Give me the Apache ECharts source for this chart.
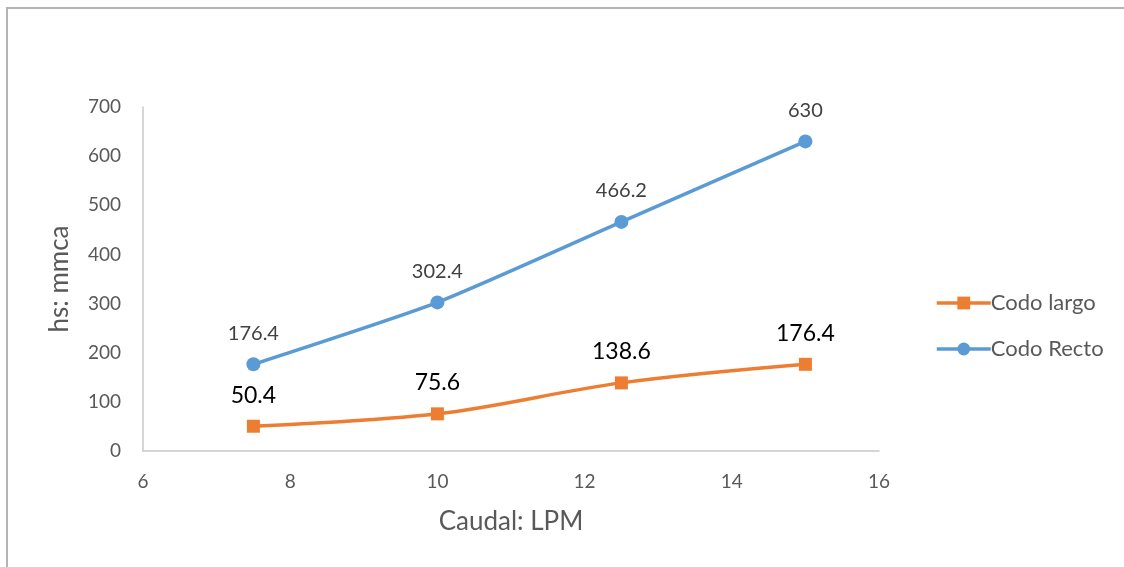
<!DOCTYPE html>
<html>
<head>
<meta charset="utf-8">
<script src="https://cdn.jsdelivr.net/npm/echarts@6/dist/echarts.min.js"></script>
<style>
  html, body { margin: 0; padding: 0; background: #fff; }
  #chart { position: absolute; left: 0; top: 0; width: 1124px; height: 567px; }
  #frame { position: absolute; left: 6px; top: 7px; width: 1130px; height: 580px;
           border-top: 2px solid #b4b4b4; border-left: 2px solid #b4b4b4; pointer-events: none; }
</style>
</head>
<body>
<div id="chart"></div>
<div id="frame"></div>
<script>
// Flow rate (LPM) and head loss (mm water column) for two elbow types
const caudal = [7.5, 10, 12.5, 15];
const codoLargo = [50.4, 75.6, 138.6, 176.4];
const codoRecto = [176.4, 302.4, 466.2, 630];
const xTicks = [6, 8, 10, 12, 14, 16];
const yTicks = [0, 100, 200, 300, 400, 500, 600, 700];

const FONT = 'Lato, "Noto Sans", sans-serif';
const pairs = (xs, ys) => xs.map((x, i) => [x, ys[i]]);

const chart = echarts.init(document.getElementById('chart'), null, { renderer: 'canvas' });
chart.setOption({
  animation: false,
  textStyle: { fontFamily: FONT },
  grid: { left: 143, right: 245, top: 107, bottom: 116 },
  legend: {
    orient: 'vertical',
    left: 930,
    top: 287,
    itemWidth: 54,
    itemHeight: 16,
    itemGap: 24,
    lineStyle: { width: 3.5 },
    textStyle: { fontFamily: FONT, fontSize: 22, color: '#595959', padding: [0, 0, 0, -5] },
    data: ['Codo largo', 'Codo Recto']
  },
  xAxis: {
    type: 'value',
    min: xTicks[0],
    max: xTicks[xTicks.length - 1],
    interval: 2,
    name: 'Caudal: LPM',
    nameLocation: 'middle',
    nameGap: 58,
    nameTextStyle: { fontFamily: FONT, fontSize: 26, color: '#595959' },
    axisLine: { lineStyle: { color: '#c8c8c8', width: 1.5 } },
    axisTick: { show: false },
    splitLine: { show: false },
    axisLabel: { fontFamily: FONT, fontSize: 19, color: '#595959', margin: 21 }
  },
  yAxis: {
    type: 'value',
    min: yTicks[0],
    max: yTicks[yTicks.length - 1],
    interval: 100,
    name: 'hs: mmca',
    nameLocation: 'middle',
    nameGap: 70,
    nameTextStyle: { fontFamily: FONT, fontSize: 26, color: '#595959' },
    axisLine: { show: true, lineStyle: { color: '#c8c8c8', width: 1.5 } },
    axisTick: { show: false },
    splitLine: { show: false },
    axisLabel: { fontFamily: FONT, fontSize: 19, color: '#595959', margin: 22 }
  },
  series: [
    {
      name: 'Codo largo',
      type: 'line',
      smooth: 0.35,
      data: pairs(caudal, codoLargo),
      symbol: 'rect',
      symbolSize: 13,
      lineStyle: { color: '#ED7D31', width: 3.5 },
      itemStyle: { color: '#ED7D31' },
      label: {
        show: true,
        position: 'top',
        distance: 13,
        fontFamily: FONT,
        fontSize: 23,
        color: '#000000'
      }
    },
    {
      name: 'Codo Recto',
      type: 'line',
      smooth: 0.2,
      data: pairs(caudal, codoRecto),
      symbol: 'circle',
      symbolSize: 14,
      lineStyle: { color: '#5B9BD5', width: 3.5 },
      itemStyle: { color: '#5B9BD5' },
      label: {
        show: true,
        position: 'top',
        distance: 14,
        fontFamily: FONT,
        fontSize: 20,
        color: '#404040'
      }
    }
  ]
});
</script>
</body>
</html>
